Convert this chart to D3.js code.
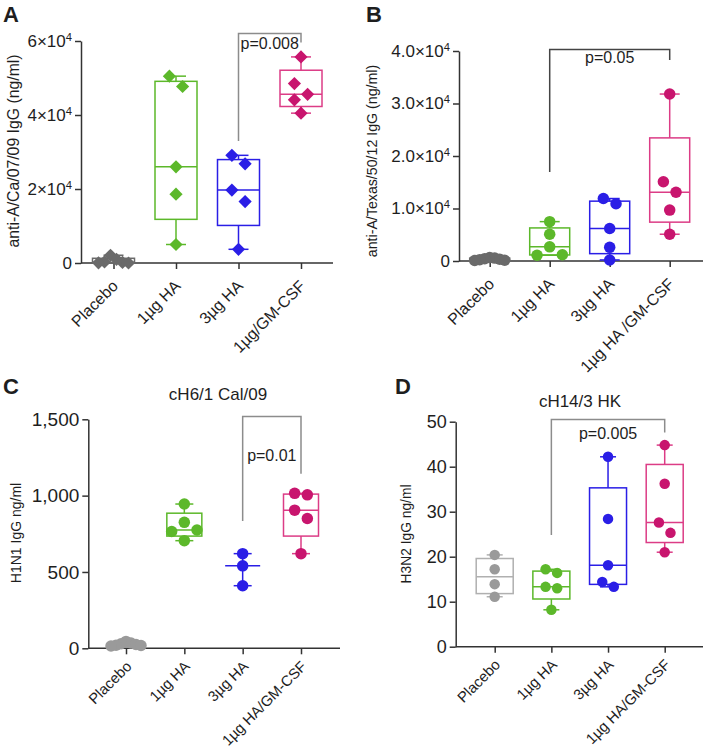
<!DOCTYPE html>
<html><head><meta charset="utf-8">
<script src="https://cdn.jsdelivr.net/npm/d3@7"></script>
<style>
body{margin:0;background:#fff}
text{font-family:'Liberation Sans',Arial,Helvetica,sans-serif;fill:#1e1e1e}
</style>
</head><body>
<svg id="chart" width="706" height="752"></svg>
<script>
// ---------------- DATA ----------------
const catsA = ["Placebo", "1µg HA", "3µg HA", "1µg/GM-CSF"];
const catsB = ["Placebo", "1µg HA", "3µg HA", "1µg HA /GM-CSF"];
const catsC = ["Placebo", "1µg HA", "3µg HA", "1µg HA/GM-CSF"];
const catsD = ["Placebo", "1µg HA", "3µg HA", "1µg HA/GM-CSF"];

// Panel A: anti-A/Ca/07/09 IgG (ng/ml)
const placeboA = [2100, 1000, 300, 150, 50, 0];
const ha1A     = [50500, 47700, 26000, 18600, 5000];
const ha3A     = [29100, 26800, 19700, 16600, 3700];
const gmA      = [55700, 48500, 45600, 44100, 40500];

// Panel B: anti-A/Texas/50/12 IgG (ng/ml)
const placeboB = [650, 550, 450, 350, 250, 150, 100];
const ha1B     = [7500, 5100, 2700, 1200, 1100];
const ha3B     = [11900, 10900, 6200, 2600, 200];
const gmB      = [31800, 15100, 13100, 9700, 5100];

// Panel C: cH6/1 Cal/09, H1N1 IgG ng/ml
const placeboC = [45, 35, 30, 25, 20, 18, 15];
const ha1C     = [945, 825, 775, 765, 705];
const ha3C     = [620, 540, 410];
const gmC      = [1015, 1005, 905, 850, 620];

// Panel D: cH14/3 HK, H3N2 IgG ng/ml
const placeboD = [20.4, 17.2, 13.9, 11.1];
const ha1D     = [17.2, 16.4, 13.3, 13.0, 8.2];
const ha3D     = [42.2, 28.4, 18.1, 14.4, 13.3];
const gmD      = [44.8, 36.2, 27.6, 25.3, 21.0];

// Y ticks and their labels
const ticksA = [0, 20000, 40000, 60000];
const tickLabelsA = ["0", "2×10^4", "4×10^4", "6×10^4"];
const ticksB = [0, 10000, 20000, 30000, 40000];
const tickLabelsB = ["0", "1.0×10^4", "2.0×10^4", "3.0×10^4", "4.0×10^4"];
const ticksC = [0, 500, 1000, 1500];
const tickLabelsC = ["0", "500", "1,000", "1,500"];
const ticksD = [0, 10, 20, 30, 40, 50];
const tickLabelsD = ["0", "10", "20", "30", "40", "50"];

// significance brackets: [from category index, to category index, left end, top, right end, label baseline]
const bracketA = [2, 3, 33000, 62000, 59600, 57800];
const bracketB = [1, 3, 16950, 40300, 38300, 37700];
const bracketC = [2, 3, 834, 1518, 1144, 1227];
const bracketD = [1, 3, 24.8, 50.5, 47.6, 46.1];
const pTexts = ["p=0.008", "p=0.05", "p=0.01", "p=0.005"];

const yTitles = ["anti-A/Ca/07/09 IgG (ng/ml)", "anti-A/Texas/50/12 IgG (ng/ml)", "H1N1 IgG ng/ml", "H3N2 IgG ng/ml"];
const panelTitles = ["", "", "cH6/1 Cal/09", "cH14/3 HK"];
const panelLetters = ["A", "B", "C", "D"];

// ---------------- STYLE / LAYOUT ----------------
const GREEN = "#5cb82a", BLUE = "#2a1ee6", MAG = "#c8156e", MAGBOX = "#dc3c86";
const panels = [
  {letter: panelLetters[0], cats: catsA, vals: [placeboA, ha1A, ha3A, gmA], ticks: ticksA, tickLabels: tickLabelsA,
   yTitle: yTitles[0], title: panelTitles[0], bracket: bracketA, p: pTexts[0],
   x0: 81, x1: 333, y0: 263, yTop: 41, c0: 113.5, c1: 301, shape: "diamond", size: 12, boxW: 42, capW: 20,
   pointCols: ["#6a6a6a", GREEN, BLUE, MAG], boxCols: ["#6a6a6a", GREEN, BLUE, MAGBOX], brCol: "#8c8c8c",
   letterPos: [3, 22], yTitlePos: [13, 151], titlePos: null, catShift: [5, 24],
   fs: {tick: 17, cat: 16, yt: 15.8, p: 16, title: 17}},
  {letter: panelLetters[1], cats: catsB, vals: [placeboB, ha1B, ha3B, gmB], ticks: ticksB, tickLabels: tickLabelsB,
   yTitle: yTitles[1], title: panelTitles[1], bracket: bracketB, p: pTexts[1],
   x0: 459, x1: 703, y0: 261, yTop: 51, c0: 489.7, c1: 669.7, shape: "circle", size: 11.5, boxW: 40, capW: 20,
   pointCols: ["#6a6a6a", GREEN, BLUE, MAG], boxCols: ["#6a6a6a", GREEN, BLUE, MAGBOX], brCol: "#444",
   letterPos: [366, 22], yTitlePos: [372, 161], titlePos: null, catShift: [5, 24],
   fs: {tick: 17, cat: 16, yt: 14.2, p: 16, title: 17}},
  {letter: panelLetters[2], cats: catsC, vals: [placeboC, ha1C, ha3C, gmC], ticks: ticksC, tickLabels: tickLabelsC,
   yTitle: yTitles[2], title: panelTitles[2], bracket: bracketC, p: pTexts[2],
   x0: 88.3, x1: 340, y0: 648.3, yTop: 419.3, c0: 126, c1: 301, shape: "circle", size: 11.5, boxW: 35, capW: 18,
   pointCols: ["#9a9a9a", GREEN, BLUE, MAG], boxCols: ["#9a9a9a", GREEN, BLUE, MAGBOX], brCol: "#8c8c8c",
   letterPos: [3, 394], yTitlePos: [16, 533], titlePos: [218, 394], catShift: [6, 19],
   fs: {tick: 19, cat: 14.8, yt: 14, p: 16, title: 17}},
  {letter: panelLetters[3], cats: catsD, vals: [placeboD, ha1D, ha3D, gmD], ticks: ticksD, tickLabels: tickLabelsD,
   yTitle: yTitles[3], title: panelTitles[3], bracket: bracketD, p: pTexts[3],
   x0: 455.7, x1: 703, y0: 646.7, yTop: 421.7, c0: 494.7, c1: 664.7, shape: "circle", size: 10.5, boxW: 37, capW: 16,
   pointCols: ["#9a9a9a", GREEN, BLUE, MAG], boxCols: ["#b0b0b0", GREEN, BLUE, MAGBOX], brCol: "#8c8c8c",
   letterPos: [395, 394], yTitlePos: [406, 534], titlePos: [580, 401], catShift: [6, 19],
   fs: {tick: 18, cat: 14.8, yt: 13.8, p: 16, title: 17}}
];

const svg = d3.select("#chart");

function quartiles(arr) {
  const s = [...arr].sort((a, b) => a - b), n = s.length;
  const q = p => {
    const pos = Math.max(1, Math.min(n, (n + 1) * p));
    const lo = Math.floor(pos), hi = Math.min(n, Math.ceil(pos));
    return s[lo - 1] + (s[hi - 1] - s[lo - 1]) * (pos - lo);
  };
  return {min: s[0], max: s[n - 1], q1: q(0.25), med: q(0.5), q3: q(0.75)};
}

// simple beeswarm: avoid overlaps, then centre and limit width of each cluster
function swarm(vals, y, size, maxW) {
  const idx = vals.map((v, i) => i).sort((a, b) => vals[b] - vals[a]);
  const off = vals.map(() => 0), placed = [];
  const step = size * 1.1, cands = [0];
  for (let k = 1; k < 12; k++) cands.push(k * step, -k * step);
  idx.forEach(i => {
    const yi = y(vals[i]);
    for (const c of cands) {
      if (placed.every(j => Math.hypot(off[j] - c, y(vals[j]) - yi) >= size)) { off[i] = c; break; }
    }
    placed.push(i);
  });
  const clusters = []; let cur = [idx[0]];
  for (let k = 1; k < idx.length; k++) {
    if (Math.abs(y(vals[idx[k]]) - y(vals[idx[k - 1]])) < size) cur.push(idx[k]);
    else { clusters.push(cur); cur = [idx[k]]; }
  }
  clusters.push(cur);
  clusters.forEach(cl => {
    const mn = d3.min(cl, i => off[i]), mx = d3.max(cl, i => off[i]);
    const mid = (mn + mx) / 2, w = mx - mn, sc = w > maxW ? maxW / w : 1;
    cl.forEach(i => off[i] = (off[i] - mid) * sc);
  });
  return off;
}

function drawPanel(p) {
  const g = svg.append("g");
  const y = d3.scaleLinear().domain([0, d3.max(p.ticks)]).range([p.y0, p.yTop]);
  const x = d3.scalePoint().domain(p.cats).range([p.c0, p.c1]);

  // y axis
  const yg = g.append("g").attr("transform", `translate(${p.x0},0)`)
    .call(d3.axisLeft(y).tickValues(p.ticks).tickSize(6).tickSizeOuter(0).tickPadding(3).tickFormat(() => ""));
  yg.selectAll(".tick text").each(function (d, i) {
    const [base, exp] = p.tickLabels[i].split("^");
    const t = d3.select(this).text(base).attr("font-size", p.fs.tick).attr("fill", "#1e1e1e");
    if (exp) t.append("tspan").attr("dy", "-0.55em").attr("font-size", "0.66em").text(exp);
  });
  // x axis
  const xg = g.append("g").attr("transform", `translate(0,${p.y0})`)
    .call(d3.axisBottom(x).tickSize(6).tickSizeOuter(0));
  xg.select(".domain").remove();
  g.append("line").attr("x1", p.x0).attr("x2", p.x1).attr("y1", p.y0).attr("y2", p.y0);
  xg.selectAll(".tick text")
    .attr("text-anchor", "end").attr("font-size", p.fs.cat).attr("fill", "#1e1e1e")
    .attr("y", 0).attr("dy", 0)
    .attr("transform", `translate(${p.catShift[0]},${p.catShift[1]}) rotate(-45)`);
  g.selectAll(".domain, .tick line, line").attr("stroke", "#333").attr("stroke-width", 1.5);

  // boxes
  p.vals.forEach((vals, i) => {
    const cx = x(p.cats[i]), q = quartiles(vals), col = p.boxCols[i];
    const bg = g.append("g").attr("stroke", col).attr("stroke-width", 1.5).attr("fill", "none");
    if (vals.length <= 3) {
      bg.append("line").attr("x1", cx).attr("x2", cx).attr("y1", y(q.max)).attr("y2", y(q.min));
    } else {
      bg.append("rect").attr("x", cx - p.boxW / 2).attr("width", p.boxW)
        .attr("y", y(q.q3)).attr("height", y(q.q1) - y(q.q3));
      bg.append("line").attr("x1", cx).attr("x2", cx).attr("y1", y(q.max)).attr("y2", y(q.q3));
      bg.append("line").attr("x1", cx).attr("x2", cx).attr("y1", y(q.q1)).attr("y2", y(q.min));
    }
    bg.append("line").attr("x1", cx - p.boxW / 2).attr("x2", cx + p.boxW / 2).attr("y1", y(q.med)).attr("y2", y(q.med));
    [q.max, q.min].forEach(v => bg.append("line").attr("x1", cx - p.capW / 2).attr("x2", cx + p.capW / 2)
      .attr("y1", y(v)).attr("y2", y(v)));
  });
  // points
  p.vals.forEach((vals, i) => {
    const cx = x(p.cats[i]);
    const off = swarm(vals, y, p.size, 30);
    vals.forEach((v, k) => {
      const px = cx + off[k], py = y(v), r = p.size / 2;
      if (p.shape === "diamond") {
        const rr = r + 0.6;
        g.append("path").attr("d", `M${px},${py - rr}L${px + rr},${py}L${px},${py + rr}L${px - rr},${py}Z`)
          .attr("fill", p.pointCols[i]);
      } else {
        g.append("circle").attr("cx", px).attr("cy", py).attr("r", r).attr("fill", p.pointCols[i]);
      }
    });
  });
  // bracket
  const [fi, ti, vl, vt, vr, vlab] = p.bracket;
  const xl = x(p.cats[fi]), xr = x(p.cats[ti]);
  g.append("path").attr("d", `M${xl},${y(vl)}V${y(vt)}H${xr}V${y(vr)}`)
    .attr("fill", "none").attr("stroke", p.brCol).attr("stroke-width", 1.5);
  g.append("text").attr("x", (xl + xr) / 2).attr("y", y(vlab)).attr("text-anchor", "middle")
    .attr("font-size", p.fs.p).text(p.p);

  // titles
  g.append("text").attr("transform", `translate(${p.yTitlePos[0]},${p.yTitlePos[1]}) rotate(-90)`)
    .attr("text-anchor", "middle").attr("dy", "0.35em").attr("font-size", p.fs.yt).text(p.yTitle);
  if (p.titlePos) g.append("text").attr("x", p.titlePos[0]).attr("y", p.titlePos[1]).attr("dy", "0.35em")
    .attr("text-anchor", "middle").attr("font-size", p.fs.title).text(p.title);
  g.append("text").attr("x", p.letterPos[0]).attr("y", p.letterPos[1]).attr("font-size", 22)
    .attr("font-weight", "bold").attr("fill", "#000").text(p.letter);
}

panels.forEach(drawPanel);
</script>
</body></html>
